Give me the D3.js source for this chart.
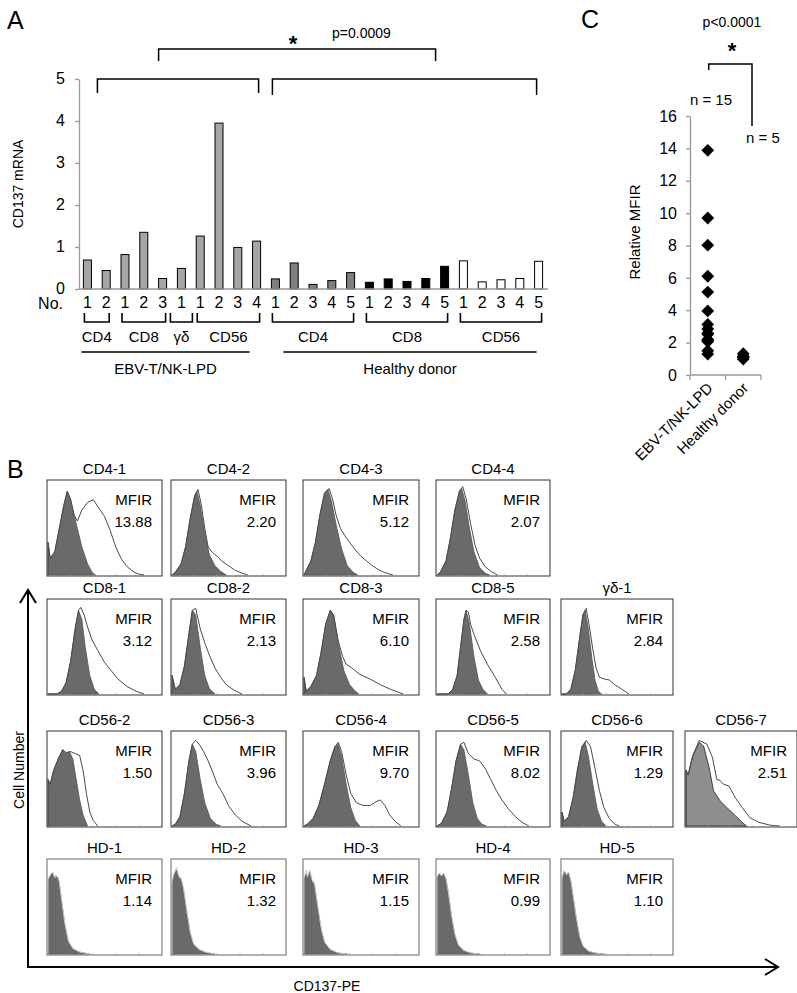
<!DOCTYPE html>
<html><head><meta charset="utf-8">
<script src="https://cdn.jsdelivr.net/npm/d3@7"></script>
<style>body{margin:0;background:#fff} svg{display:block} text{font-family:"Liberation Sans",Arial,sans-serif}</style>
</head><body><svg id="c" width="797" height="993"></svg>
<script>
// ---------- Panel A data ----------
const barCohort = ["EBV","EBV","EBV","EBV","EBV","EBV","EBV","EBV","EBV","EBV","HD","HD","HD","HD","HD","HD","HD","HD","HD","HD","HD","HD","HD","HD","HD"];
const barGroup  = ["CD4","CD4","CD8","CD8","CD8","γδ","CD56","CD56","CD56","CD56","CD4","CD4","CD4","CD4","CD4","CD8","CD8","CD8","CD8","CD8","CD56","CD56","CD56","CD56","CD56"];
const barNumbers = ["1","2","1","2","3","1","1","2","3","4","1","2","3","4","5","1","2","3","4","5","1","2","3","4","5"];
const barValues = [0.69,0.44,0.82,1.35,0.25,0.49,1.26,3.95,0.99,1.14,0.24,0.62,0.11,0.20,0.39,0.16,0.24,0.18,0.25,0.54,0.67,0.17,0.22,0.25,0.66];
const yTicksA = [0,1,2,3,4,5];
const cohortLabels = {EBV:"EBV-T/NK-LPD", HD:"Healthy donor"};

// ---------- Panel C data ----------
const cCategories = ["EBV-T/NK-LPD","Healthy donor"];
const mfirEBV = [13.88,9.70,8.02,6.10,5.12,3.96,3.12,2.84,2.58,2.51,2.20,2.13,2.07,1.50,1.29];
const mfirHD = [1.14,1.32,1.15,0.99,1.10];
const cTicks = [0,2,4,6,8,10,12,14,16];

// ---------- Panel B data ----------
const histRows = [
 ["CD4-1","CD4-2","CD4-3","CD4-4"],
 ["CD8-1","CD8-2","CD8-3","CD8-5","γδ-1"],
 ["CD56-2","CD56-3","CD56-4","CD56-5","CD56-6","CD56-7"],
 ["HD-1","HD-2","HD-3","HD-4","HD-5"]
];
const histMFIR = [
 ["13.88","2.20","5.12","2.07"],
 ["3.12","2.13","6.10","2.58","2.84"],
 ["1.50","3.96","9.70","8.02","1.29","2.51"],
 ["1.14","1.32","1.15","0.99","1.10"]
];
const histControl = [
 [[0,0],[0,35],[2,18],[6,25],[10,50],[14,75],[17,90],[20,80],[25,55],[30,30],[35,12],[39,3],[42,0]],
 [[0,0],[3,3],[8,12],[12,30],[16,60],[20,85],[22,90],[25,75],[29,45],[33,22],[38,10],[43,4],[48,0]],
 [[0,0],[2,5],[6,15],[10,35],[14,65],[18,88],[21,92],[24,80],[28,55],[33,28],[38,10],[43,3],[47,0]],
 [[0,0],[3,3],[8,15],[12,40],[16,70],[20,90],[22,93],[25,80],[29,50],[33,25],[38,8],[43,2],[47,0]],
 [[0,0],[8,0],[12,3],[16,12],[20,35],[24,70],[27,90],[30,80],[33,50],[37,20],[41,5],[45,0]],
 [[0,0],[0,20],[3,5],[7,10],[11,30],[15,65],[18,90],[21,85],[25,50],[29,20],[33,6],[38,0]],
 [[0,0],[0,18],[2,3],[6,8],[11,20],[15,45],[19,75],[23,90],[26,85],[30,55],[35,25],[40,10],[45,3],[48,0]],
 [[0,0],[10,0],[14,5],[18,20],[21,50],[24,80],[26,90],[29,75],[33,40],[37,15],[41,5],[45,0]],
 [[0,0],[4,0],[8,5],[12,25],[16,60],[19,85],[21,90],[24,70],[27,40],[30,15],[33,3],[36,0]],
 [[0,0],[0,50],[2,45],[5,60],[9,72],[13,82],[16,78],[19,80],[22,72],[25,50],[28,28],[31,12],[35,0]],
 [[0,0],[3,2],[7,10],[11,35],[15,70],[18,88],[21,80],[25,50],[29,25],[34,8],[39,2],[43,0]],
 [[0,0],[3,2],[8,8],[13,22],[18,45],[23,70],[27,85],[30,88],[33,75],[37,45],[41,20],[45,6],[49,0]],
 [[0,0],[4,3],[9,15],[13,40],[17,70],[21,88],[24,82],[28,55],[32,25],[36,8],[40,2],[44,0]],
 [[0,0],[0,15],[2,5],[6,10],[10,30],[14,60],[18,85],[21,90],[24,75],[28,45],[32,18],[36,5],[40,0]],
 [[0,0],[0,60],[2,55],[6,75],[12,90],[16,86],[21,63],[25,38],[31,27],[37,20],[45,11],[51,4],[55,0]],
 [[0,0],[0,78],[1,82],[4,87],[6,80],[7,84],[9,82],[12,57],[15,30],[18,13],[22,5],[28,2],[37,0]],
 [[0,0],[0,75],[2,85],[4,90],[6,82],[8,80],[10,70],[13,45],[16,22],[19,10],[24,4],[30,1],[38,0]],
 [[0,0],[0,80],[2,86],[3,80],[5,88],[7,78],[9,75],[12,50],[15,26],[18,12],[23,4],[30,1],[38,0]],
 [[0,0],[0,82],[2,86],[4,83],[6,86],[8,80],[10,66],[13,40],[16,20],[19,9],[24,3],[30,1],[38,0]],
 [[0,0],[0,80],[2,88],[4,84],[6,87],[8,78],[10,62],[13,38],[16,18],[19,8],[24,3],[30,1],[38,0]]
];
const histStain = [
 [[0,0],[0,35],[2,18],[6,25],[10,50],[14,75],[17,90],[20,82],[23,65],[26,58],[30,70],[35,78],[40,81],[45,72],[50,63],[55,48],[60,30],[65,17],[70,9],[75,4],[80,1],[85,0]],
 [[0,0],[3,3],[8,12],[12,30],[16,60],[20,85],[23,92],[26,75],[29,50],[32,30],[36,24],[40,20],[45,14],[50,10],[56,5],[62,2],[67,0]],
 [[0,0],[2,5],[6,15],[10,35],[14,65],[18,88],[22,93],[25,82],[28,65],[32,50],[36,42],[40,35],[45,27],[50,20],[55,15],[60,10],[65,6],[70,3],[78,0]],
 [[0,0],[3,3],[8,15],[12,40],[16,70],[20,90],[23,95],[26,82],[30,55],[34,32],[38,18],[43,9],[48,4],[54,0]],
 [[0,0],[8,0],[12,3],[16,12],[20,35],[24,70],[27,90],[29,93],[32,85],[35,72],[39,58],[44,47],[50,34],[56,25],[62,16],[70,8],[78,3],[85,0]],
 [[0,0],[0,20],[3,5],[7,10],[11,30],[15,65],[18,90],[21,92],[25,70],[29,55],[33,42],[38,28],[43,18],[48,10],[55,4],[62,0]],
 [[0,0],[0,18],[2,3],[6,8],[11,20],[15,45],[19,75],[23,90],[26,85],[30,57],[34,40],[37,32],[42,28],[49,21],[58,16],[67,10],[76,5],[87,0]],
 [[0,0],[10,0],[14,5],[18,20],[21,50],[24,80],[26,90],[28,88],[30,75],[33,64],[36,55],[39,46],[45,32],[52,18],[58,5],[62,0]],
 [[0,0],[4,0],[8,5],[12,25],[16,60],[19,85],[22,92],[25,72],[28,48],[31,28],[34,18],[39,16],[43,15],[48,10],[52,7],[57,3],[61,0]],
 [[0,0],[0,50],[2,45],[5,60],[9,72],[13,82],[16,79],[20,80],[24,78],[28,76],[31,60],[34,35],[37,15],[40,6],[44,0]],
 [[0,0],[3,2],[7,10],[11,35],[15,70],[18,88],[21,92],[24,88],[28,80],[32,70],[36,58],[40,45],[45,35],[50,22],[56,12],[62,5],[70,0]],
 [[0,0],[3,2],[8,8],[13,22],[18,45],[23,70],[27,85],[30,90],[33,80],[37,55],[41,35],[46,25],[52,22],[58,22],[63,26],[67,28],[71,22],[75,12],[80,5],[85,0]],
 [[0,0],[4,3],[9,15],[13,40],[17,70],[21,88],[24,90],[28,78],[33,72],[38,70],[43,62],[48,50],[53,38],[58,28],[64,18],[70,10],[76,4],[82,0]],
 [[0,0],[0,15],[2,5],[6,10],[10,30],[14,60],[18,85],[22,92],[26,85],[30,62],[34,38],[38,20],[43,8],[48,2],[52,0]],
 [[0,0],[0,60],[2,55],[6,75],[12,92],[19,88],[24,74],[28,50],[31,49],[34,45],[39,43],[45,30],[51,20],[58,9],[66,4],[76,1],[85,0]],
 [[0,0],[0,80],[2,85],[4,88],[6,82],[8,84],[10,78],[12,58],[15,32],[18,14],[22,6],[28,2],[37,0]],
 [[0,0],[0,78],[2,88],[4,93],[6,84],[8,82],[10,72],[13,47],[16,24],[19,11],[24,5],[30,2],[38,0]],
 [[0,0],[0,82],[2,90],[3,83],[5,90],[7,80],[9,77],[12,52],[15,28],[18,13],[23,5],[30,1],[38,0]],
 [[0,0],[0,83],[2,87],[4,84],[6,87],[8,81],[10,67],[13,41],[16,21],[19,10],[24,4],[30,1],[38,0]],
 [[0,0],[0,82],[2,90],[4,86],[6,88],[8,79],[10,63],[13,39],[16,19],[19,9],[24,3],[30,1],[38,0]]
];

const svg = d3.select("#c");
const FONT = "Liberation Sans, Arial, sans-serif";

function txt(g, x, y, s, size, anchor, extra) {
  const t = g.append("text").attr("x", x).attr("y", y).attr("font-size", size)
    .attr("text-anchor", anchor || "start").attr("fill", "#000").text(s);
  if (extra) extra(t);
  return t;
}

// ================= Panel A =================
const gA = svg.append("g");
txt(gA, 7, 29, "A", 25);
const xA = d3.scaleBand().domain(d3.range(barValues.length)).range([78, 548]).paddingInner(0.574).paddingOuter(0.287);
const yA = d3.scaleLinear().domain([0, 5]).range([289, 79]);
const cxA = i => xA(i) + xA.bandwidth() / 2;

function barFill(i) {
  if (barCohort[i] === "EBV") return "#a6a6a6";
  if (barGroup[i] === "CD4") return "#7f7f7f";
  if (barGroup[i] === "CD8") return "#000";
  return "#fff";
}

const axA = gA.append("g").attr("transform", "translate(79,0)")
  .call(d3.axisLeft(yA).tickValues(yTicksA).tickFormat(d3.format("d")).tickSize(4).tickPadding(10).tickSizeOuter(0));
axA.selectAll("path,line").attr("stroke", "#999").attr("stroke-width", 1.3);
axA.selectAll("text").attr("font-size", 16).attr("font-family", FONT).attr("fill", "#000").attr("dy", "0.25em");

gA.selectAll("rect.bar").data(barValues).join("rect").attr("class", "bar")
  .attr("x", (d, i) => xA(i)).attr("y", d => yA(d))
  .attr("width", xA.bandwidth()).attr("height", d => yA(0) - yA(d))
  .attr("fill", (d, i) => barFill(i)).attr("stroke", "#000").attr("stroke-width", 1);

gA.append("line").attr("x1", 79).attr("x2", 548).attr("y1", yA(0)).attr("y2", yA(0))
  .attr("stroke", "#999").attr("stroke-width", 1.5);

txt(gA, 63, 309, "No.", 16, "end");
barNumbers.forEach((n, i) => txt(gA, cxA(i), 308, n, 16, "middle"));

// group brackets
const groups = [];
barGroup.forEach((g, i) => {
  const last = groups[groups.length - 1];
  if (last && last.g === g && last.c === barCohort[i]) last.end = i;
  else groups.push({g, c: barCohort[i], start: i, end: i});
});
groups.forEach(gr => {
  let l = cxA(gr.start) - 3, r = cxA(gr.end) + 3;
  if (gr.start === gr.end) { l = cxA(gr.start) - 11; r = cxA(gr.start) + 11; }
  gA.append("path").attr("d", `M${l},313V322H${r}V313`).attr("fill", "none")
    .attr("stroke", "#000").attr("stroke-width", 1.6);
  txt(gA, (l + r) / 2, 342, gr.g, 15, "middle");
});
// cohort lines
["EBV", "HD"].forEach(c => {
  const idx = d3.range(barCohort.length).filter(i => barCohort[i] === c);
  const l = c === "EBV" ? cxA(idx[0]) - 6 : cxA(idx[0]) + 8;
  const r = c === "EBV" ? cxA(idx[idx.length - 1]) - 7 : cxA(idx[idx.length - 1]) - 2;
  gA.append("line").attr("x1", l).attr("x2", r).attr("y1", 352).attr("y2", 352)
    .attr("stroke", "#000").attr("stroke-width", 1.3);
  txt(gA, (l + r) / 2, 374, cohortLabels[c], 15, "middle");
});

// significance brackets
const sL1 = cxA(0) + 10, sR1 = cxA(9) + 2, sL2 = cxA(10) - 3, sR2 = cxA(24) - 2;
gA.append("path").attr("d", `M${sL1},93V${yA(5)}H${sR1}V93`).attr("fill", "none").attr("stroke", "#000").attr("stroke-width", 1.5);
gA.append("path").attr("d", `M${sL2},95V${yA(5)}H${sR2}V95`).attr("fill", "none").attr("stroke", "#000").attr("stroke-width", 1.5);
const uL = cxA(4) - 4, uR = cxA(19) - 9;
gA.append("path").attr("d", `M${uL},61V49H${uR}V61`).attr("fill", "none").attr("stroke", "#000").attr("stroke-width", 1.5);
txt(gA, 293, 51, "*", 22, "middle", t => t.attr("font-weight", "bold"));
txt(gA, 332, 38, "p=0.0009", 14, "start");

txt(gA, 0, 0, "CD137 mRNA", 14, "middle", t => t.attr("transform", "translate(23,184) rotate(-90)").attr("x", 0).attr("y", 0));

// ================= Panel C =================
const gC = svg.append("g");
txt(gC, 581, 28, "C", 25);
const yC = d3.scaleLinear().domain([0, 16]).range([375, 116]);
const bC = d3.scaleBand().domain(cCategories).range([690, 761]);
const xC = d => bC(d) + bC.bandwidth() / 2;

const axC = gC.append("g").attr("transform", "translate(690,0)")
  .call(d3.axisLeft(yC).tickValues(cTicks).tickSize(4).tickPadding(9).tickSizeOuter(0));
axC.selectAll("path,line").attr("stroke", "#999").attr("stroke-width", 1.3);
axC.selectAll("text").attr("font-size", 16).attr("font-family", FONT).attr("fill", "#000");

gC.append("line").attr("x1", 690).attr("x2", 761).attr("y1", yC(0)).attr("y2", yC(0)).attr("stroke", "#999").attr("stroke-width", 1.3);
cCategories.map(c => bC(c)).concat([761]).forEach(xx =>
  gC.append("line").attr("x1", xx).attr("x2", xx).attr("y1", yC(0)).attr("y2", yC(0) + 5).attr("stroke", "#999").attr("stroke-width", 1.3));

const diamond = d3.symbol(d3.symbolSquare).size(82);
[[cCategories[0], mfirEBV], [cCategories[1], mfirHD]].forEach(([c, vals]) => {
  gC.selectAll(null).data(vals).join("path")
    .attr("d", diamond)
    .attr("transform", d => `translate(${xC(c)},${yC(d)}) rotate(45)`)
    .attr("fill", "#000");
});
cCategories.forEach(c => {
  txt(gC, 0, 0, c, 15, "end", t => t.attr("transform", `translate(${xC(c) + 6},${yC(0) + 14}) rotate(-45)`));
});
txt(gC, 0, 0, "Relative MFIR", 15, "middle", t => t.attr("transform", "translate(640,232) rotate(-90)"));
txt(gC, 732, 27, "p<0.0001", 14, "middle");
txt(gC, 732, 58, "*", 22, "middle", t => t.attr("font-weight", "bold"));
gC.append("path").attr("d", `M${xC(cCategories[0]) + 1},70V64H752V126`).attr("fill", "none").attr("stroke", "#000").attr("stroke-width", 1.5);
txt(gC, 711, 105, "n = 15", 15, "middle");
txt(gC, 763, 143, "n = 5", 15, "middle");

// ================= Panel B =================
const gB = svg.append("g");
txt(gB, 7, 478, "B", 25);
const rowTops = [480, 599, 731, 859];
const colLefts = [47, 171, 303, 436, 561, 685];
const boxW = [115, 115, 116, 114, 112, 112];
const boxH = 96;
let k = 0;
histRows.forEach((row, ri) => {
  row.forEach((name, ci) => {
    const x0 = colLefts[ci], y0 = rowTops[ri], w = boxW[ci];
    const hx = d3.scaleLinear().domain([0, 100]).range([x0 + 1, x0 + w - 1]);
    const hy = d3.scaleLinear().domain([0, 100]).range([y0 + boxH - 1, y0 + 2]);
    const isHD = ri === 3;
    const special = name === "CD56-7";
    const area = d3.area().x(d => hx(d[0])).y0(hy(0)).y1(d => hy(d[1]));
    const line = d3.line().x(d => hx(d[0])).y(d => hy(d[1]));
    const g = gB.append("g");
    g.append("rect").attr("x", x0).attr("y", y0).attr("width", w).attr("height", boxH)
      .attr("fill", "#fff").attr("stroke", isHD ? "#666" : "#333").attr("stroke-width", 1);
    g.append("path").attr("d", area(histControl[k]))
      .attr("fill", special ? "#8e8e8e" : "#6a6a6a").attr("stroke", special ? "#222" : "#555").attr("stroke-width", 0.8);
    g.append("path").attr("d", line(histStain[k])).attr("fill", "none")
      .attr("stroke", isHD ? "#c4c4c4" : "#4a4a4a").attr("stroke-width", 1);
    d3.range(1, 5).forEach(j => {
      g.append("line").attr("x1", x0 + w * j / 5).attr("x2", x0 + w * j / 5).attr("y1", y0 + boxH).attr("y2", y0 + boxH - 2).attr("stroke", "#999").attr("stroke-width", 0.6);
    });
    txt(g, x0 + w / 2, y0 - 6, name, 15, "middle");
    txt(g, x0 + w - 10, y0 + 25, "MFIR", 15, "end");
    txt(g, x0 + w - 10, y0 + 47, histMFIR[ri][ci], 15, "end");
    k++;
  });
});

// arrows
gB.append("path").attr("d", "M28,967V591").attr("stroke", "#000").attr("stroke-width", 2).attr("fill", "none");
gB.append("path").attr("d", "M20,603L28,590L36,603").attr("stroke", "#000").attr("stroke-width", 2).attr("fill", "none");
gB.append("path").attr("d", "M27,967H777").attr("stroke", "#000").attr("stroke-width", 2).attr("fill", "none");
gB.append("path").attr("d", "M765,959L778,967L765,975").attr("stroke", "#000").attr("stroke-width", 2).attr("fill", "none");
txt(gB, 0, 0, "Cell Number", 14, "middle", t => t.attr("transform", "translate(24,770) rotate(-90)"));
txt(gB, 327, 991, "CD137-PE", 14, "middle");
</script></body></html>
